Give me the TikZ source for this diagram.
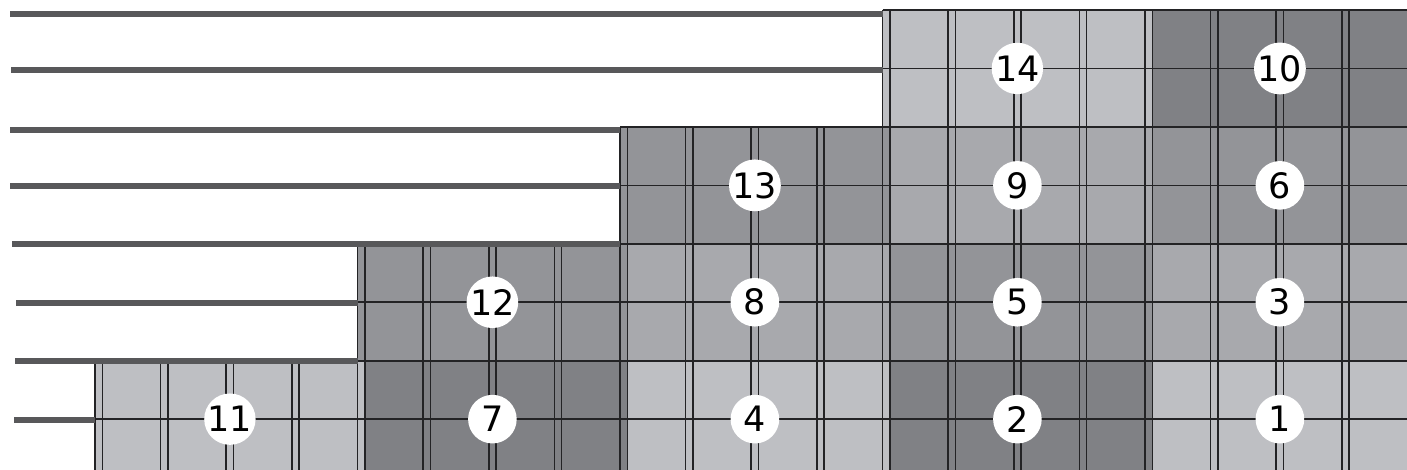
\documentclass[tikz,border=0pt]{standalone}
\usepackage{fontspec}
\newfontfamily\numfont{DejaVu Sans}
\definecolor{cLight}{RGB}{190,191,195}
\definecolor{cMidL}{RGB}{168,169,173}
\definecolor{cMidD}{RGB}{147,148,152}
\definecolor{cDark}{RGB}{128,129,133}
\definecolor{ruleC}{RGB}{88,88,90}
\definecolor{gridC}{RGB}{35,35,37}
\begin{document}
\begin{tikzpicture}[x=1pt,y=-1pt,
  numlabel/.style={circle, fill=white, inner sep=0pt, minimum size=48.6pt,
    font=\numfont\fontsize{35}{35}\selectfont},
  thickrule/.style={draw=ruleC, line width=6pt},
  gridline/.style={draw=gridC, line width=1.6pt}]
\useasboundingbox (0,0) rectangle (1407,469);
\begin{scope}
\clip (0,0) rectangle (1407,469);
% blocks: column / row (1 = bottom) / fill / left strip fill / label
\foreach \c/\r/\fc/\lc/\lab in {
  0/1/cLight/cLight/11, 1/1/cDark/cLight/7, 2/1/cLight/cDark/4, 3/1/cDark/cLight/2, 4/1/cLight/cDark/1,
  1/2/cMidD/cMidD/12, 2/2/cMidL/cMidD/8, 3/2/cMidD/cMidL/5, 4/2/cMidL/cMidD/3,
  2/3/cMidD/cMidD/13, 3/3/cMidL/cMidD/9, 4/3/cMidD/cMidL/6,
  3/4/cLight/cLight/14, 4/4/cDark/cLight/10}{
  \pgfmathsetmacro\xa{95+\c*262.5}
  \pgfmathsetmacro\ya{360.7-(\r-1)*116.9}
  \fill[\fc] (\xa,\ya) rectangle ++(262.5,116.9);
  \fill[\lc] (\xa,\ya) rectangle ++(7.3,116.9);
  \foreach \k in {0,1,2,3}{
    \draw[gridline] (\xa+\k*65.625,\ya) -- ++(0,116.9);
    \draw[gridline] (\xa+\k*65.625+7.3,\ya) -- ++(0,116.9);
  }
  \draw[gridline] (\xa+262.5,\ya) -- ++(0,116.9);
  \draw[gridline] (\xa,\ya) -- ++(262.5,0);
  \draw[gridline] (\xa,\ya+58.45) -- ++(262.5,0);
  \draw[gridline] (\xa,\ya+116.9) -- ++(262.5,0);
}
% thick rules on the left
\draw[thickrule] (10,14) -- (882.7,14);
\draw[thickrule] (11,70) -- (882.7,70);
\draw[thickrule] (10,130) -- (620,130);
\draw[thickrule] (10,186) -- (620,186);
\draw[thickrule] (12,244) -- (620,244);
\draw[thickrule] (16,303) -- (357.7,303);
\draw[thickrule] (15,361) -- (357.7,361);
\draw[thickrule] (14,420) -- (95,420);
% number labels
\foreach \c/\r/\lab in {0/1/11, 1/1/7, 2/1/4, 3/1/2, 4/1/1,
  1/2/12, 2/2/8, 3/2/5, 4/2/3, 2/3/13, 3/3/9, 4/3/6, 3/4/14, 4/4/10}{
  \pgfmathsetmacro\xc{95+\c*262.5+134.9}
  \pgfmathsetmacro\yc{360.7-(\r-1)*116.9+58.45}
  \node[numlabel] (n\lab) at (\xc,\yc) {\lab};
}
\end{scope}
\end{tikzpicture}
\end{document}
